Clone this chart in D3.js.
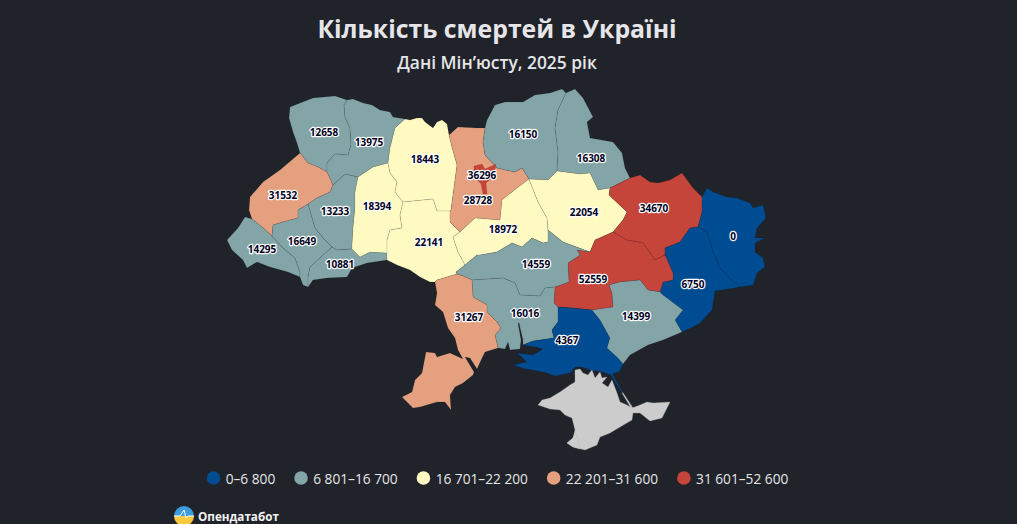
<!DOCTYPE html>
<html lang="uk">
<head>
<meta charset="utf-8">
<title>Кількість смертей в Україні</title>
<script src="https://cdn.jsdelivr.net/npm/d3@7"></script>
<style>
  html, body { margin: 0; background: #202329; overflow: hidden; }
  svg { display: block; font-family: "Open Sans", "Noto Sans", sans-serif; }
</style>
</head>
<body>
<svg id="chart" width="1017" height="524"></svg>
<script>
const titleText = "Кількість смертей в Україні";
const subtitleText = "Дані Мін’юсту, 2025 рік";
const brandText = "Опендатабот";

const legendLabels = ["0–6 800", "6 801–16 700", "16 701–22 200", "22 201–31 600", "31 601–52 600"];
const legendColors = ["#004c92", "#84a5a8", "#fffac2", "#e5a17f", "#c5453a"];
const thresholds = [6800, 16700, 22200, 31600];
const noDataColor = "#cccccc";

const regionNames = ["Волинська", "Рівненська", "Львівська", "Тернопільська", "Закарпатська", "Івано-Франківська", "Чернівецька", "Хмельницька", "Житомирська", "Вінницька", "Київська", "Чернігівська", "Сумська", "Черкаська", "Полтавська", "Харківська", "Луганська", "Донецька", "Дніпропетровська", "Кіровоградська", "Миколаївська", "Одеська", "Херсонська", "Запорізька"];
const regionValues = [12658, 13975, 31532, 13233, 14295, 16649, 10881, 18394, 18443, 22141, 28728, 16150, 16308, 18972, 22054, 34670, 0, 6750, 52559, 14559, 16016, 31267, 4367, 14399];
const labelAnchors = [[324, 132], [369, 142], [283, 195], [335, 211], [262, 249], [302, 241], [340, 264], [377, 206], [425, 159], [429, 242], [478, 200], [523, 134], [591, 158], [503, 229], [584, 212], [654, 208], [733, 236], [693, 284], [593, 279], [536, 264], [525, 313], [469, 317], [567, 340], [636, 316]];

const kyivValue = 36296;
const kyivAnchor = [482, 175];

// shared borders, in map units, so neighbours never leave a gap
const arcs = {
  volOuter: [[347, 100], [335, 96], [313, 98], [290, 107], [289, 118], [293, 132], [297, 143], [300, 153]],
  volRiv: [[347, 100], [344, 105], [345, 117], [350, 128], [351, 145], [348, 155], [335, 154], [327, 163], [327, 172]],
  volLviv: [[300, 153], [308, 163], [318, 167], [327, 172]],
  rivOuter: [[347, 100], [353, 99], [363, 103], [372, 105], [380, 110], [390, 112], [393, 117], [405, 119]],
  rivZhy: [[405, 119], [395, 128], [390, 148], [388, 163]],
  rivKhm: [[388, 163], [373, 167], [358, 177]],
  rivTer: [[358, 177], [345, 174], [333, 185]],
  rivLviv: [[327, 172], [333, 185]],
  lvivOuter: [[300, 153], [280, 170], [263, 182], [250, 197], [249, 210], [252, 219]],
  lvivZak: [[252, 219], [262, 227], [272, 236]],
  lvivIF: [[272, 236], [273, 225], [283, 222], [298, 218], [298, 210], [308, 204]],
  lvivTer: [[333, 185], [330, 192], [317, 198], [308, 204]],
  terIF: [[308, 204], [312, 218], [315, 228], [323, 238], [332, 247]],
  terChe: [[332, 247], [337, 250], [352, 249]],
  terKhm: [[358, 177], [355, 192], [355, 208], [353, 228], [352, 245], [352, 249]],
  khmChe: [[352, 249], [360, 257], [370, 252], [387, 253]],
  ifChe: [[332, 247], [320, 258], [310, 267], [308, 277], [308, 287]],
  ifZak: [[272, 236], [283, 248], [295, 258], [300, 272], [300, 277]],
  zakOuter: [[252, 219], [245, 217], [238, 228], [227, 240], [232, 250], [243, 260], [247, 268], [257, 262], [270, 267], [288, 272], [300, 277]],
  ifOuter: [[300, 277], [303, 285], [308, 287]],
  cheOuter: [[308, 287], [313, 280], [327, 278], [347, 277], [352, 268], [367, 263], [387, 260]],
  cheVin: [[387, 253], [387, 260]],
  khmVin: [[387, 253], [387, 240], [390, 230], [402, 228], [400, 215], [403, 202]],
  khmZhy: [[388, 163], [390, 173], [397, 182], [395, 192], [403, 202]],
  zhyVin: [[403, 202], [433, 199], [437, 211], [450, 211]],
  zhyOuter: [[405, 119], [410, 120], [417, 118], [422, 118], [425, 122], [433, 128], [437, 122], [442, 120], [447, 124], [449, 135]],
  zhyKyiv: [[449, 135], [452, 147], [457, 165], [453, 195], [451, 210], [450, 211]],
  kyivVin: [[450, 211], [450, 222], [460, 232]],
  vinCher: [[460, 232], [453, 237], [458, 252], [465, 265]],
  vinKir: [[465, 265], [456, 272], [457, 274]],
  vinOdesa: [[457, 274], [447, 277], [437, 280], [435, 282]],
  vinOuter: [[387, 260], [397, 265], [410, 270], [420, 277], [430, 282], [435, 282]],
  kyivOuter: [[449, 135], [458, 127], [477, 128], [485, 128]],
  kyivChe: [[485, 128], [483, 142], [485, 155], [497, 168], [515, 172], [522, 168], [529, 179]],
  cheOut: [[485, 128], [487, 120], [495, 105], [505, 102], [523, 102], [535, 95], [550, 93], [562, 89], [566, 93]],
  cheSumy: [[566, 93], [558, 110], [555, 128], [558, 152], [557, 171]],
  chePol: [[529, 179], [548, 180], [557, 171]],
  sumyOuter: [[566, 93], [575, 89], [583, 98], [593, 117], [587, 122], [590, 138], [613, 142], [622, 153], [625, 168], [630, 178]],
  sumyPol: [[557, 171], [580, 174], [590, 173], [598, 190], [610, 188]],
  sumyKh: [[630, 178], [610, 188]],
  kyivCher: [[460, 232], [475, 218], [500, 220], [502, 200], [517, 188], [529, 179]],
  cherPol: [[529, 179], [538, 202], [547, 218], [548, 230]],
  polKir: [[548, 230], [563, 242], [590, 252]],
  polDni: [[590, 252], [595, 240], [613, 232]],
  polKh: [[610, 188], [609, 195], [627, 212], [623, 220], [613, 232]],
  cherKir: [[548, 230], [548, 242], [543, 243], [532, 238], [522, 247], [512, 243], [497, 252], [480, 255], [477, 255], [465, 265]],
  dniKh: [[613, 232], [627, 240], [643, 243], [655, 260], [665, 255]],
  khOuter: [[630, 178], [640, 175], [650, 182], [658, 183], [670, 180], [682, 173], [693, 188], [702, 197]],
  khLug: [[702, 197], [702, 212], [698, 227]],
  khDon: [[698, 227], [690, 228], [680, 242], [665, 248], [665, 255]],
  lugOuter: [[702, 197], [707, 188], [713, 192], [727, 197], [737, 198], [750, 203], [753, 208], [763, 205], [766, 218], [757, 228], [755, 238], [765, 238], [755, 243], [755, 252], [763, 258], [765, 267], [757, 273], [753, 285], [740, 287]],
  lugDon: [[698, 227], [707, 232], [713, 252], [720, 268], [733, 282], [740, 287]],
  donOuter: [[740, 287], [715, 291], [712, 310], [700, 323], [695, 326], [682, 332]],
  donDni: [[665, 255], [673, 273], [673, 280], [663, 282], [660, 292]],
  donZap: [[660, 292], [663, 295], [683, 310], [675, 320], [682, 332]],
  zapDni: [[592, 310], [613, 307], [612, 293], [609, 285], [620, 282], [640, 280], [648, 290], [660, 292]],
  zapKhe: [[592, 310], [600, 320], [610, 338], [607, 348], [618, 358], [623, 364]],
  zapOuter: [[623, 364], [630, 355], [648, 345], [663, 340], [682, 332]],
  kheDni: [[558, 307], [573, 308], [592, 310]],
  kheMyk: [[558, 307], [558, 322], [552, 330], [554, 338], [533, 341], [523, 345]],
  kheOuter: [[523, 345], [535, 347], [543, 349], [533, 355], [517, 353], [527, 362], [513, 365], [525, 369], [533, 370], [547, 373], [555, 376], [570, 373], [575, 367], [582, 367], [590, 370], [603, 372], [611, 375], [622, 393], [622.8, 392.5], [612.5, 374], [620, 371], [623, 364]],
  mykOuter: [[498, 348], [505, 349], [508, 342], [510, 350], [520, 349], [521, 340], [518, 323], [519, 323], [523, 340], [523, 345]],
  odMyk: [[472, 280], [473, 297], [487, 305], [487, 312], [497, 322], [501, 328], [495, 335], [498, 348]],
  odOuter: [[498, 348], [485, 352], [482, 358], [477, 369], [470, 358], [465, 357], [474, 372], [473, 375], [463, 383], [455, 387], [450, 395], [451, 410], [445, 402], [437, 402], [420, 407], [413, 408], [402, 397], [412, 392], [415, 380], [422, 373], [426, 352], [435, 353], [437, 357], [450, 353], [463, 359], [458, 350], [455, 338], [448, 328], [443, 312], [435, 305], [437, 293], [435, 282]],
  odKir: [[457, 274], [463, 276], [472, 280]],
  kirMyk: [[472, 280], [503, 278], [515, 283], [520, 295], [540, 296], [545, 288], [555, 287]],
  kirDni: [[555, 287], [569, 282], [568, 263], [580, 255], [577, 250], [590, 252]],
  mykDni: [[555, 287], [554, 303], [558, 307]],
};

// each ring in the same order as regionNames, "-" walks an arc backwards
const regionRings = [
  "volOuter volLviv -volRiv",
  "rivOuter rivZhy rivKhm rivTer -rivLviv -volRiv",
  "lvivOuter lvivZak lvivIF -lvivTer -rivLviv -volLviv",
  "lvivTer terIF terChe -terKhm rivTer",
  "zakOuter -ifZak -lvivZak",
  "ifZak ifOuter -ifChe -terIF -lvivIF",
  "ifChe cheOuter -cheVin -khmChe -terChe",
  "rivKhm terKhm khmChe khmVin -khmZhy",
  "zhyOuter zhyKyiv -zhyVin -khmZhy -rivZhy",
  "khmVin zhyVin kyivVin vinCher vinKir vinOdesa -vinOuter -cheVin",
  "kyivOuter kyivChe -kyivCher -kyivVin -zhyKyiv",
  "cheOut cheSumy -chePol -kyivChe",
  "sumyOuter sumyKh -sumyPol -cheSumy",
  "kyivCher cherPol cherKir -vinCher",
  "chePol sumyPol polKh -polDni -polKir -cherPol",
  "khOuter khLug khDon -dniKh -polKh -sumyKh",
  "lugOuter -lugDon -khLug",
  "lugDon donOuter -donZap -donDni -khDon",
  "polDni dniKh donDni -zapDni -kheDni -mykDni kirDni",
  "-cherKir polKir -kirDni -kirMyk -odKir -vinKir",
  "kirMyk mykDni kheMyk -mykOuter -odMyk",
  "odKir odMyk odOuter -vinOdesa",
  "kheDni zapKhe -kheOuter -kheMyk",
  "zapDni donZap -zapOuter -zapKhe",
];

const kyivRing = [[474, 166], [482, 164], [485, 169], [496, 164], [494, 176], [486, 183], [487, 194], [483, 194], [481, 184], [474, 176], [474, 166]];
const crimeaRing = [[575, 370], [580, 369], [583, 373], [588, 375], [592, 370], [595, 378], [600, 372], [602, 378], [607, 377], [602, 383], [608, 387], [612, 380], [617, 393], [620, 402], [627, 405], [632, 408], [640, 405], [647, 402], [653, 403], [670, 402], [665, 412], [662, 418], [650, 421], [640, 413], [633, 413], [632, 420], [620, 427], [610, 433], [600, 437], [597, 445], [585, 450], [573, 447], [567, 443], [573, 438], [575, 430], [572, 418], [565, 415], [560, 410], [550, 409], [538, 405], [542, 400], [550, 398], [560, 392], [570, 385], [575, 382], [575, 370]];
const sevastopolRing = [[575, 432], [578, 438], [580, 449], [573, 447], [567, 443], [573, 438], [575, 432]];
const arabatRing = [[622, 393], [631, 408], [633, 408], [622.8, 392.5], [622, 393]];

const ringFromArcs = (spec) =>
  spec.split(" ").flatMap((name) =>
    name[0] === "-" ? [...arcs[name.slice(1)]].reverse() : arcs[name],
  );
const asFeature = (ring, name, value) => ({
  type: "Feature",
  properties: { name, value },
  geometry: { type: "Polygon", coordinates: [ring] },
});

const regions = regionNames.map((name, i) => {
  const ring = ringFromArcs(regionRings[i]);
  return asFeature([...ring, ring[0]], name, regionValues[i]);
});
const crimea = [
  asFeature(crimeaRing, "АР Крим", null),
  asFeature(sevastopolRing, "Севастополь", null),
  asFeature(arabatRing, "Арабатська стрілка", null),
];
const kyiv = asFeature(kyivRing, "Київ", kyivValue);

const svg = d3.select("#chart");
const color = d3.scaleThreshold().domain(thresholds).range(legendColors);

const projection = d3.geoIdentity().fitExtent(
  [
    [227, 89],
    [766, 450],
  ],
  { type: "FeatureCollection", features: [...regions, ...crimea] },
);
const path = d3.geoPath(projection);

svg
  .append("text")
  .attr("x", 497)
  .attr("y", 37.5)
  .attr("text-anchor", "middle")
  .attr("font-size", 24.8)
  .attr("font-weight", 700)
  .attr("fill", "#e6e6ea")
  .text(titleText);
svg
  .append("text")
  .attr("x", 497)
  .attr("y", 69)
  .attr("text-anchor", "middle")
  .attr("font-size", 17.4)
  .attr("font-weight", 600)
  .attr("fill", "#e6e6ea")
  .text(subtitleText);

const map = svg.append("g");
map
  .selectAll("path.region")
  .data([...regions, ...crimea, kyiv])
  .join("path")
  .attr("class", "region")
  .attr("d", path)
  .attr("fill", (d) =>
    d.properties.value === null ? noDataColor : color(d.properties.value),
  )
  .attr("stroke", (d) => (d.properties.value === null ? "#aaa" : "#000"))
  .attr("stroke-opacity", (d) => (d.properties.value === null ? 0.5 : 0.16))
  .attr("stroke-width", 0.6)
  .attr("stroke-linejoin", "round");

map
  .selectAll("text")
  .data([...regionValues.map((v, i) => [v, labelAnchors[i]]), [kyivValue, kyivAnchor]])
  .join("text")
  .attr("transform", (d) => `translate(${projection(d[1])})`)
  .attr("text-anchor", "middle")
  .attr("dominant-baseline", "central")
  .attr("font-size", 10)
  .attr("font-weight", 700)
  .attr("fill", "#000022")
  .attr("stroke", "#fff")
  .attr("stroke-width", 2.4)
  .attr("stroke-linejoin", "round")
  .attr("paint-order", "stroke")
  .text((d) => d[0]);

const legendGap = 19;
const legend = svg.append("g").attr("transform", "translate(0,478)");
const items = legend
  .selectAll("g")
  .data(legendLabels)
  .join("g");
items
  .append("circle")
  .attr("r", 6.8)
  .attr("cx", 6.8)
  .attr("fill", (d, i) => legendColors[i]);
items
  .append("text")
  .attr("x", 19)
  .attr("dominant-baseline", "central")
  .attr("font-size", 13.7)
  .attr("fill", "#e6e6ea")
  .text((d) => d);
const legendWidths = [];
items.select("text").each(function () {
  legendWidths.push(19 + this.getComputedTextLength());
});
const legendTotal = d3.sum(legendWidths) + legendGap * (legendWidths.length - 1);
const legendX = 497.5 - legendTotal / 2;
items.attr("transform", (d, i) => {
  const x = legendX + d3.sum(legendWidths.slice(0, i)) + legendGap * i;
  return `translate(${x},0)`;
});

const defs = svg.append("defs");
const logoFill = defs
  .append("linearGradient")
  .attr("id", "logoFill")
  .attr("x1", 0)
  .attr("x2", 0)
  .attr("y1", 0)
  .attr("y2", 1);
logoFill.append("stop").attr("offset", 0.5).attr("stop-color", "#3d9be0");
logoFill.append("stop").attr("offset", 0.5).attr("stop-color", "#fbc93d");

const brand = svg.append("g").attr("transform", "translate(184,516)");
brand.append("circle").attr("r", 10).attr("fill", "url(#logoFill)");
brand
  .append("path")
  .attr("d", d3.line()([[-10, 0], [-4, 0], [-2, -3], [0, -6], [2, 2], [4, 0], [10, 0]]))
  .attr("fill", "none")
  .attr("stroke", "#fff")
  .attr("stroke-width", 1);
brand
  .append("text")
  .attr("x", 14)
  .attr("dominant-baseline", "central")
  .attr("font-size", 11.7)
  .attr("font-weight", 700)
  .attr("fill", "#f2f2f2")
  .text(brandText);
</script>
</body>
</html>
